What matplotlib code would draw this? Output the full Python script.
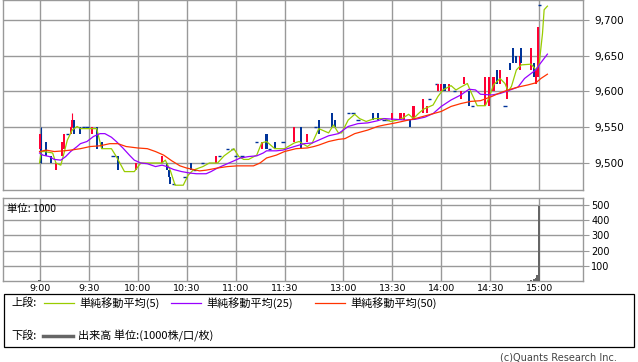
import matplotlib
matplotlib.use("Agg")
import matplotlib.pyplot as plt
from matplotlib.patches import Rectangle
from matplotlib.lines import Line2D

plt.rcParams['font.family'] = ['DejaVu Sans']
JP = ['Noto Sans CJK JP', 'DejaVu Sans']

# 1-minute candles (time, open, high, low, close)
c_time = ["9:00", "9:01", "9:04", "9:07", "9:10", "9:14", "9:15", "9:17", "9:19", "9:20",
          "9:21", "9:25", "9:27", "9:29", "9:32", "9:35", "9:38", "9:45", "9:48", "9:59",
          "10:15", "10:18", "10:19", "10:20", "10:22", "10:29", "10:33", "10:35", "10:40", "10:48",
          "10:50", "10:55", "10:58", "11:00", "11:04", "11:13", "11:16", "11:19", "11:21", "11:24",
          "11:29", "12:30", "12:34", "12:38", "12:43", "12:45", "12:53", "12:55", "13:03", "13:06",
          "13:09", "13:18", "13:21", "13:25", "13:27", "13:30", "13:35", "13:37", "13:41", "13:43",
          "13:49", "13:51", "13:53", "13:57", "13:58", "14:00", "14:02", "14:05", "14:08", "14:12",
          "14:14", "14:17", "14:19", "14:27", "14:29", "14:32", "14:34", "14:36", "14:39", "14:40",
          "14:42", "14:44", "14:46", "14:48", "14:49", "14:55", "14:57", "14:58", "14:59", "15:00"]
c_open = [9520, 9520, 9530, 9510, 9490, 9510, 9520, 9540, 9540, 9550,
          9560, 9550, 9550, 9550, 9540, 9550, 9530, 9510, 9510, 9490,
          9500, 9500, 9490, 9480, 9470, 9480, 9500, 9490, 9500, 9500,
          9510, 9520, 9520, 9510, 9510, 9530, 9520, 9540, 9520, 9530,
          9530, 9530, 9550, 9530, 9550, 9560, 9570, 9560, 9570, 9570,
          9560, 9570, 9570, 9560, 9560, 9560, 9560, 9560, 9560, 9560,
          9570, 9570, 9590, 9610, 9600, 9600, 9610, 9600, 9600, 9590,
          9610, 9600, 9580, 9580, 9580, 9600, 9630, 9610, 9580, 9590,
          9640, 9660, 9650, 9630, 9660, 9630, 9640, 9610, 9620, 9720]
c_high = [9540, 9550, 9530, 9510, 9500, 9530, 9540, 9540, 9550, 9570,
          9560, 9550, 9550, 9550, 9550, 9550, 9530, 9510, 9510, 9500,
          9510, 9500, 9490, 9480, 9470, 9480, 9500, 9490, 9500, 9510,
          9510, 9520, 9520, 9510, 9510, 9530, 9530, 9540, 9520, 9530,
          9530, 9550, 9550, 9540, 9550, 9560, 9570, 9560, 9570, 9570,
          9560, 9570, 9570, 9560, 9560, 9570, 9570, 9570, 9560, 9580,
          9590, 9580, 9590, 9610, 9610, 9610, 9610, 9610, 9600, 9600,
          9620, 9600, 9580, 9620, 9620, 9620, 9630, 9630, 9580, 9620,
          9640, 9660, 9650, 9650, 9660, 9660, 9640, 9630, 9690, 9720]
c_low = [9520, 9500, 9510, 9500, 9490, 9510, 9520, 9540, 9540, 9550,
         9540, 9540, 9550, 9550, 9540, 9520, 9520, 9510, 9490, 9490,
         9500, 9490, 9480, 9470, 9470, 9480, 9490, 9490, 9500, 9500,
         9510, 9520, 9520, 9510, 9510, 9530, 9520, 9520, 9520, 9520,
         9530, 9530, 9520, 9530, 9550, 9540, 9550, 9550, 9570, 9570,
         9560, 9560, 9560, 9560, 9560, 9560, 9560, 9560, 9550, 9560,
         9570, 9570, 9590, 9610, 9600, 9600, 9600, 9600, 9600, 9590,
         9610, 9580, 9580, 9580, 9580, 9600, 9610, 9610, 9580, 9590,
         9630, 9640, 9640, 9630, 9640, 9630, 9620, 9610, 9620, 9720]
c_close = [9540, 9500, 9510, 9500, 9500, 9530, 9540, 9540, 9550, 9560,
           9540, 9540, 9550, 9550, 9550, 9520, 9520, 9510, 9490, 9500,
           9510, 9490, 9480, 9470, 9470, 9480, 9490, 9490, 9500, 9510,
           9510, 9520, 9520, 9510, 9510, 9530, 9530, 9520, 9520, 9520,
           9530, 9550, 9520, 9540, 9550, 9540, 9550, 9550, 9570, 9570,
           9560, 9560, 9560, 9560, 9560, 9570, 9570, 9570, 9550, 9580,
           9590, 9580, 9590, 9610, 9610, 9610, 9600, 9610, 9600, 9600,
           9620, 9580, 9580, 9620, 9620, 9620, 9610, 9630, 9580, 9620,
           9630, 9640, 9640, 9650, 9640, 9660, 9620, 9630, 9690, 9720]

# moving averages
ma5_time = ["9:00", "9:01", "9:03", "9:08", "9:10", "9:13", "9:15", "9:17", "9:20", "9:23",
            "9:25", "9:35", "9:38", "9:44", "9:47", "9:52", "9:58", "10:02", "10:15", "10:17",
            "10:20", "10:23", "10:28", "10:31", "10:34", "10:40", "10:44", "10:49", "10:53", "10:59",
            "11:02", "11:05", "11:08", "11:13", "11:16", "11:19", "11:24", "11:30", "12:30", "12:33",
            "12:38", "12:41", "12:45", "12:47", "12:51", "12:54", "12:57", "12:59", "13:03", "13:07",
            "13:10", "13:14", "13:19", "13:25", "13:29", "13:33", "13:36", "13:40", "13:43", "13:46",
            "13:49", "13:55", "13:58", "14:01", "14:06", "14:09", "14:12", "14:16", "14:18", "14:22",
            "14:27", "14:29", "14:32", "14:36", "14:39", "14:41", "14:43", "14:46", "14:49", "14:55",
            "14:58", "15:00", "15:02", "15:03", "15:05"]
ma5_val = [9500, 9516, 9516, 9514, 9500, 9497, 9514, 9532, 9546, 9551,
           9548, 9548, 9520, 9520, 9509, 9488, 9488, 9500, 9500, 9504,
           9490, 9469, 9469, 9483, 9490, 9495, 9500, 9500, 9510, 9520,
           9509, 9505, 9505, 9511, 9528, 9530, 9520, 9520, 9528, 9530,
           9523, 9528, 9548, 9546, 9542, 9553, 9542, 9542, 9560, 9568,
           9562, 9558, 9562, 9562, 9558, 9560, 9562, 9568, 9562, 9569,
           9575, 9581, 9593, 9602, 9608, 9602, 9606, 9611, 9600, 9580,
           9580, 9590, 9609, 9618, 9611, 9600, 9607, 9630, 9637, 9638,
           9630, 9639, 9681, 9714, 9719]

ma25_time = ["9:00", "9:02", "9:06", "9:09", "9:13", "9:16", "9:19", "9:23", "9:25", "9:29",
             "9:33", "9:37", "9:40", "9:44", "9:47", "9:51", "9:55", "9:58", "10:02", "10:06",
             "10:11", "10:15", "10:18", "10:22", "10:27", "10:32", "10:36", "10:42", "10:45", "10:49",
             "10:53", "10:59", "11:03", "11:08", "11:13", "11:17", "11:19", "11:25", "11:29", "12:30",
             "12:36", "12:41", "12:45", "12:51", "12:57", "13:03", "13:09", "13:15", "13:21", "13:25",
             "13:32", "13:38", "13:44", "13:50", "13:55", "14:00", "14:06", "14:12", "14:17", "14:21",
             "14:24", "14:31", "14:36", "14:41", "14:47", "14:51", "14:55", "14:58", "15:00", "15:03",
             "15:05"]
ma25_val = [9514, 9511, 9509, 9505, 9504, 9509, 9516, 9523, 9527, 9530,
            9537, 9541, 9541, 9536, 9530, 9521, 9511, 9504, 9500, 9499,
            9495, 9497, 9495, 9491, 9488, 9486, 9485, 9485, 9488, 9493,
            9497, 9503, 9507, 9509, 9510, 9514, 9517, 9517, 9518, 9523,
            9527, 9528, 9532, 9538, 9541, 9551, 9555, 9556, 9559, 9562,
            9561, 9560, 9561, 9564, 9569, 9579, 9588, 9595, 9603, 9602,
            9596, 9595, 9597, 9601, 9606, 9618, 9625, 9630, 9637, 9646,
            9652]

ma50_time = ["9:00", "9:04", "9:09", "9:15", "9:19", "9:25", "9:31", "9:37", "9:43", "9:48",
             "9:53", "10:00", "10:06", "10:11", "10:16", "10:21", "10:26", "10:30", "10:34", "10:38",
             "10:42", "10:49", "10:55", "11:01", "11:11", "11:15", "11:19", "11:25", "11:30", "12:31",
             "12:38", "12:42", "12:45", "12:51", "12:57", "13:01", "13:07", "13:15", "13:21", "13:25",
             "13:32", "13:38", "13:44", "13:52", "14:00", "14:06", "14:12", "14:18", "14:24", "14:31",
             "14:36", "14:41", "14:47", "14:53", "14:58", "15:01", "15:05"]
ma50_val = [9516, 9518, 9516, 9517, 9518, 9520, 9523, 9524, 9527, 9527,
            9523, 9521, 9520, 9516, 9511, 9503, 9496, 9493, 9491, 9489,
            9490, 9493, 9495, 9496, 9496, 9500, 9507, 9511, 9516, 9520,
            9521, 9523, 9525, 9530, 9533, 9534, 9541, 9546, 9551, 9553,
            9556, 9559, 9562, 9567, 9572, 9579, 9583, 9586, 9587, 9593,
            9598, 9602, 9606, 9609, 9612, 9618, 9624]

# volume (unit: 1000 shares)
vol_time = ["9:00", "14:55", "14:57", "14:58", "14:59", "15:00"]
vol_val = [5, 6, 12, 20, 40, 490]

x_ticks = ["9:00", "9:30", "10:00", "10:30", "11:00", "11:30",
           "13:00", "13:30", "14:00", "14:30", "15:00"]
price_ticks = [9500, 9550, 9600, 9650, 9700]
vol_ticks = [100, 200, 300, 400, 500]


def pos(t):
    # minutes from 9:00, lunch break squeezed to a short gap
    h, m = map(int, t.split(":"))
    mins = h * 60 + m
    if mins <= 11 * 60 + 30:
        return mins - 9 * 60
    return 156 + mins - (12 * 60 + 30)


W, H = 638, 362
fig = plt.figure(figsize=(W / 100, H / 100), dpi=100)


def fx(px):
    return px / W


def fy(py):
    return 1 - py / H


grid_c = "#999999"
up_c, down_c = "#ff0033", "#003399"

ax = fig.add_axes([fx(3), fy(190), fx(580), 190 / H])
ax2 = fig.add_axes([fx(3), fy(281), fx(580), 83 / H])

for a in (ax, ax2):
    a.set_xlim(-22.4, 332.8)
    a.set_xticks([pos(t) for t in x_ticks])
    a.grid(True, color=grid_c, linewidth=1.0)
    a.set_axisbelow(True)
    for s in a.spines.values():
        s.set_color(grid_c)
        s.set_linewidth(1.0)
    a.yaxis.tick_right()

# candles
cw = 1.3
for t, o, hi, lo, c in zip(c_time, c_open, c_high, c_low, c_close):
    x = pos(t)
    col = up_c if c >= o else down_c
    if o == c:
        ax.hlines(o, x - 1.0, x + 1.0, color=down_c, linewidth=1.0, zorder=3)
        continue
    if hi > max(o, c) or lo < min(o, c):
        ax.vlines(x, lo, hi, color=col, linewidth=0.8, zorder=3)
    ax.bar(x, abs(c - o), bottom=min(o, c), width=cw, color=col, linewidth=0, zorder=3)

ax.plot([pos(t) for t in ma5_time], ma5_val, color="#99cc00", linewidth=0.9, zorder=4)
ax.plot([pos(t) for t in ma25_time], ma25_val, color="#9900ff", linewidth=0.9, zorder=4)
ax.plot([pos(t) for t in ma50_time], ma50_val, color="#ff3300", linewidth=0.9, zorder=4)

ax.set_ylim(9462.3, 9727.6)
ax.set_yticks(price_ticks)
ax.set_yticklabels([f"{v:,}" for v in price_ticks])
ax.tick_params(axis="y", length=4, color=grid_c, labelsize=7.5, pad=4)
ax.tick_params(axis="x", length=0, labelbottom=False)

ax2.bar([pos(t) for t in vol_time], vol_val, width=1.5, color="#666666", linewidth=0, zorder=3)
ax2.set_ylim(0, 545)
ax2.set_yticks(vol_ticks)
ax2.tick_params(axis="y", length=4, color=grid_c, labelsize=7, pad=2)
ax2.set_xticklabels(x_ticks)
ax2.tick_params(axis="x", length=0, labelsize=6.8, pad=2)

fig.text(fx(7), fy(209), "単位: 1000", family=JP, fontsize=7.5, va="center")

# legend box
fig.add_artist(Rectangle((fx(4), fy(347)), fx(630), 53 / H, fill=False,
                         edgecolor="black", linewidth=0.9, transform=fig.transFigure))
r1, r2 = 303, 336
lab = dict(family=JP, fontsize=8, va="center")
fig.text(fx(11), fy(r1), "上段:", **lab)
for x0, col, txt in [(44, "#99cc00", "単純移動平均(5)"),
                     (171, "#9900ff", "単純移動平均(25)"),
                     (315, "#ff3300", "単純移動平均(50)")]:
    fig.add_artist(Line2D([fx(x0), fx(x0 + 30)], [fy(r1), fy(r1)], color=col,
                          linewidth=0.9, transform=fig.transFigure))
    fig.text(fx(x0 + 35), fy(r1), txt, **lab)
fig.text(fx(11), fy(r2), "下段:", **lab)
fig.add_artist(Line2D([fx(43), fx(73)], [fy(r2), fy(r2)], color="#666666",
                      linewidth=2.5, transform=fig.transFigure))
fig.text(fx(78), fy(r2), "出来高 単位:(1000株/口/枚)", **lab)

fig.text(fx(617), fy(357), "(c)Quants Research Inc.", fontsize=7, color="#444444",
         ha="right", va="center")

fig.savefig("out.png", dpi=100)
